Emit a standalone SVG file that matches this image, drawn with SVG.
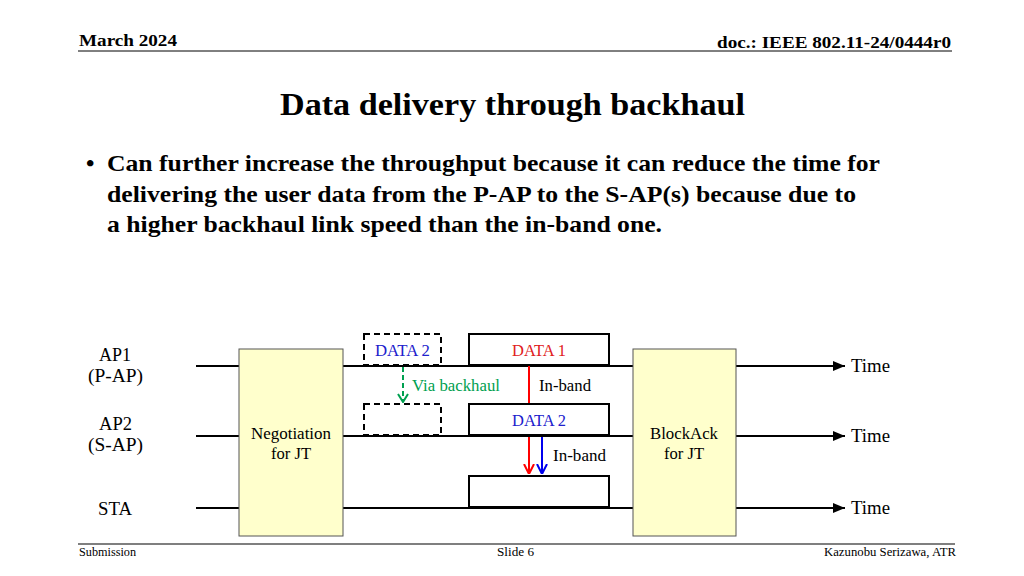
<svg xmlns="http://www.w3.org/2000/svg" width="1024" height="576" viewBox="0 0 1024 576" font-family="'Liberation Serif', 'Times New Roman', Times, serif">
<style>
text{font-family:'Liberation Serif','Times New Roman',Times,serif;fill:#000}
.hd{font-size:17px;font-weight:bold}
.ft{font-size:12px}
.bul{font-size:24px;font-weight:bold}
.lb{font-size:18px}
.sm{font-size:16.5px}
.tl{stroke:#000;stroke-width:2;fill:none}
.box{fill:#fff;stroke:#000;stroke-width:2}
.dbox{fill:none;stroke:#000;stroke-width:2;stroke-dasharray:6,4}
.ybox{fill:#ffffcc;stroke:#555;stroke-width:1}
</style>
<defs>
<marker id="ah" markerWidth="12" markerHeight="10" refX="12" refY="5" orient="auto" markerUnits="userSpaceOnUse"><path d="M0,0 L12,5 L0,10 z" fill="#000"/></marker>
<marker id="ar" markerWidth="12" markerHeight="10" refX="6" refY="10" orient="0" markerUnits="userSpaceOnUse"><path d="M1,0 L6,10 L11,0" fill="none" stroke="#f00" stroke-width="2"/></marker>
<marker id="ab" markerWidth="12" markerHeight="10" refX="6" refY="10" orient="0" markerUnits="userSpaceOnUse"><path d="M1,0 L6,10 L11,0" fill="none" stroke="#0000ee" stroke-width="2"/></marker>
<marker id="ag" markerWidth="12" markerHeight="10" refX="6" refY="9" orient="0" markerUnits="userSpaceOnUse"><path d="M1,1 L6,9 L11,1" fill="none" stroke="#00a050" stroke-width="2"/></marker>
</defs>
<rect width="1024" height="576" fill="#fff"/>
<g id="header">
<text class="hd" x="79" y="46" textLength="98" lengthAdjust="spacingAndGlyphs">March 2024</text>
<text class="hd" x="717" y="48" textLength="234" lengthAdjust="spacingAndGlyphs">doc.: IEEE 802.11-24/0444r0</text>
<line x1="78" y1="51" x2="952" y2="51" stroke="#000" stroke-width="1"/>
</g>
<text x="280" y="115" textLength="465" lengthAdjust="spacingAndGlyphs" style="font-size:31px;font-weight:bold">Data delivery through backhaul</text>
<g id="bullets">
<text class="bul" x="86" y="171">•</text>
<text class="bul" x="107" y="171" textLength="773" lengthAdjust="spacingAndGlyphs">Can further increase the throughput because it can reduce the time for</text>
<text class="bul" x="107" y="202" textLength="749" lengthAdjust="spacingAndGlyphs">delivering the user data from the P-AP to the S-AP(s) because due to</text>
<text class="bul" x="107" y="232" textLength="555" lengthAdjust="spacingAndGlyphs">a higher backhaul link speed than the in-band one.</text>
</g>
<g id="connectors">
<line class="tl" x1="196" y1="366" x2="845" y2="366" marker-end="url(#ah)"/>
<line class="tl" x1="196" y1="436" x2="845" y2="436" marker-end="url(#ah)"/>
<line class="tl" x1="196" y1="508" x2="845" y2="508" marker-end="url(#ah)"/>
<line x1="403" y1="367" x2="403" y2="402" stroke="#00a050" stroke-width="2" stroke-dasharray="5,3" marker-end="url(#ag)"/>
<line x1="529" y1="366" x2="529" y2="404" stroke="#f00" stroke-width="2"/>
<line x1="529" y1="437" x2="529" y2="474" stroke="#f00" stroke-width="2" marker-end="url(#ar)"/>
<line x1="542" y1="437" x2="542" y2="474" stroke="#0000ee" stroke-width="2" marker-end="url(#ab)"/>
</g>
<g id="labels">
<text class="lb" x="99" y="361" textLength="32" lengthAdjust="spacingAndGlyphs">AP1</text>
<text class="lb" x="88" y="382" textLength="55" lengthAdjust="spacingAndGlyphs">(P-AP)</text>
<text class="lb" x="99" y="430" textLength="33" lengthAdjust="spacingAndGlyphs">AP2</text>
<text class="lb" x="88" y="451" textLength="55" lengthAdjust="spacingAndGlyphs">(S-AP)</text>
<text class="lb" x="98" y="515" textLength="34" lengthAdjust="spacingAndGlyphs">STA</text>
<text class="lb" x="851" y="372" textLength="39" lengthAdjust="spacingAndGlyphs">Time</text>
<text class="lb" x="851" y="442" textLength="39" lengthAdjust="spacingAndGlyphs">Time</text>
<text class="lb" x="851" y="514" textLength="39" lengthAdjust="spacingAndGlyphs">Time</text>
</g>
<g id="negotiation">
<rect class="ybox" x="239" y="349" width="104" height="187"/>
<text class="sm" x="251" y="439" textLength="80" lengthAdjust="spacingAndGlyphs">Negotiation</text>
<text class="sm" x="271" y="459" textLength="40" lengthAdjust="spacingAndGlyphs">for JT</text>
</g>
<g id="blockack">
<rect class="ybox" x="633" y="349" width="103" height="187"/>
<text class="sm" x="650" y="439" textLength="68" lengthAdjust="spacingAndGlyphs">BlockAck</text>
<text class="sm" x="664" y="459" textLength="40" lengthAdjust="spacingAndGlyphs">for JT</text>
</g>
<g id="data2-backhaul">
<rect class="dbox" x="364" y="334" width="77" height="31"/>
<text class="sm" x="375" y="356" textLength="55" lengthAdjust="spacingAndGlyphs" style="fill:#2020cc">DATA 2</text>
</g>
<g id="data1">
<rect class="box" x="469" y="334" width="140" height="31"/>
<text class="sm" x="512" y="356" textLength="54" lengthAdjust="spacingAndGlyphs" style="fill:#e02020">DATA 1</text>
</g>
<g id="data2-dashed">
<rect class="dbox" x="364" y="404" width="77" height="31"/>
</g>
<g id="data2">
<rect class="box" x="469" y="404" width="140" height="31"/>
<text class="sm" x="512" y="426" textLength="54" lengthAdjust="spacingAndGlyphs" style="fill:#2020cc">DATA 2</text>
</g>
<g id="sta-data">
<rect class="box" x="469" y="476" width="140" height="31"/>
</g>
<g id="annotations">
<text class="sm" x="412" y="391" textLength="88" lengthAdjust="spacingAndGlyphs" style="fill:#00a050">Via backhaul</text>
<text class="sm" x="539" y="391" textLength="52" lengthAdjust="spacingAndGlyphs">In-band</text>
<text class="sm" x="553" y="461" textLength="53" lengthAdjust="spacingAndGlyphs">In-band</text>
</g>
<g id="footer">
<line x1="78" y1="544" x2="955" y2="544" stroke="#555" stroke-width="1.5"/>
<text class="ft" x="79" y="556" textLength="57" lengthAdjust="spacingAndGlyphs">Submission</text>
<text class="ft" x="497" y="556" textLength="37" lengthAdjust="spacingAndGlyphs">Slide 6</text>
<text class="ft" x="824" y="556" textLength="132" lengthAdjust="spacingAndGlyphs">Kazunobu Serizawa, ATR</text>
</g>
</svg>
